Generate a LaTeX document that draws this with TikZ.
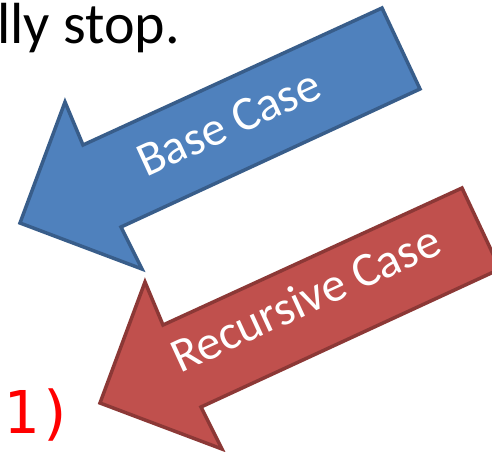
\documentclass[tikz,border=0pt]{standalone}
\usepackage{fontspec}
\setmainfont{Carlito}
\newfontfamily\monofam{DejaVu Sans Mono}
\definecolor{bluefill}{HTML}{4F81BD}
\definecolor{blueline}{HTML}{385D8A}
\definecolor{redfill}{HTML}{C0504D}
\definecolor{redline}{HTML}{8C3836}
\definecolor{codered}{HTML}{FF0000}
\begin{document}
\begin{tikzpicture}[x=1pt,y=-1pt,
  arrowshape/.style={line width=3.5pt, line join=miter},
  bluearrow/.style={arrowshape, fill=bluefill, draw=blueline},
  redarrow/.style={arrowshape, fill=redfill, draw=redline},
  arrowlabel/.style={text=white, font=\fontsize{48.5}{52}\selectfont, inner sep=0pt, anchor=base, rotate=24.7},
  bodytext/.style={font=\fontsize{58}{64}\selectfont, inner sep=0pt, anchor=base west},
  codetext/.style={text=codered, font=\monofam\fontsize{59}{64}\selectfont, inner sep=0pt, anchor=base west}]
\useasboundingbox (0,0) rectangle (492,451);
\node[bodytext] (stop) at (-3,43) {lly stop.};
\draw[bluearrow] (382,8) -- (420,89) -- (121,227) -- (142,269) -- (20,223) -- (65,102) -- (83,145) -- cycle;
\node[arrowlabel] (base) at (235,137) {Base Case};
\draw[redarrow] (462,188) -- (500,269) -- (201,407) -- (222,449) -- (100,403) -- (145,282) -- (163,325) -- cycle;
\node[arrowlabel] (rec) at (312,313) {Recursive Case};
\node[codetext] (code) at (3,433) {1)};
\end{tikzpicture}
\end{document}
